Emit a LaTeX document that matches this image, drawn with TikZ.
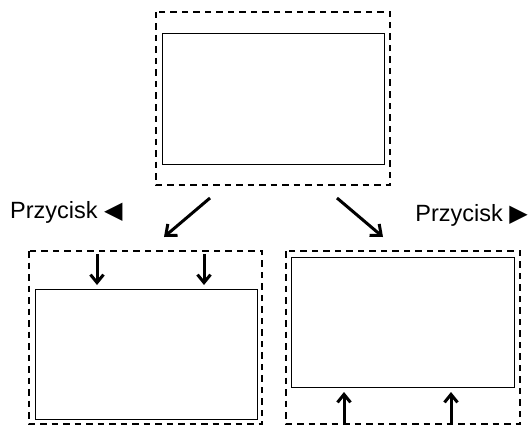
\documentclass[tikz,border=0pt]{standalone}
\usepackage{fontspec}
\setmainfont{Liberation Sans}
\newfontfamily\symfont{DejaVu Sans}
\usetikzlibrary{arrows.meta}
\begin{document}
\begin{tikzpicture}[x=1pt,y=-1pt,
  frame/.style={draw,dash pattern=on 6.5pt off 5pt,line width=1.5pt},
  screen/.style={draw,line width=1pt},
  bigarrow/.style={line width=3pt,-{Straight Barb[length=9pt,width=15pt,line width=3pt]}},
  smallarrow/.style={line width=3pt,-{Straight Barb[length=8pt,width=13pt,line width=3pt]}},
  label/.style={font=\fontsize{23.5}{27}\selectfont,inner sep=0pt}]
\newcommand\trisym[1]{\hspace{6.5pt}\raisebox{-0.5pt}{\fontsize{24}{24}\symfont #1}}
\useasboundingbox (0,0) rectangle (529,425);
% top view
\draw[frame] (156,12) rectangle (390,185);
\draw[screen] (162,34) rectangle (384,164);
% left view: content moved down
\draw[frame] (29,251) rectangle (262,424);
\draw[screen] (35,289) rectangle (257,419);
% right view: content moved up
\draw[frame] (286,251) rectangle (520,424);
\draw[screen] (291,257) rectangle (514,387);
% transitions
\coordinate (la) at (210,198);
\coordinate (lb) at (164,237);
\coordinate (ra) at (337,198);
\coordinate (rb) at (383,237);
\draw[bigarrow] (la) -- (lb);
\draw[bigarrow] (ra) -- (rb);
\node[label,anchor=base west] (pl) at (10,218) {Przycisk\trisym{◀}};
\node[label,anchor=base east] (pr) at (528,221) {Przycisk\trisym{▶}};
% scroll direction markers
\coordinate (d1a) at (97,254);
\coordinate (d1b) at (97,285);
\coordinate (d2a) at (204,254);
\coordinate (d2b) at (204,285);
\draw[smallarrow] (d1a) -- (d1b);
\draw[smallarrow] (d2a) -- (d2b);
\coordinate (u1a) at (344,425);
\coordinate (u1b) at (344,392);
\coordinate (u2a) at (451,425);
\coordinate (u2b) at (451,392);
\draw[smallarrow] (u1a) -- (u1b);
\draw[smallarrow] (u2a) -- (u2b);
\end{tikzpicture}
\end{document}
